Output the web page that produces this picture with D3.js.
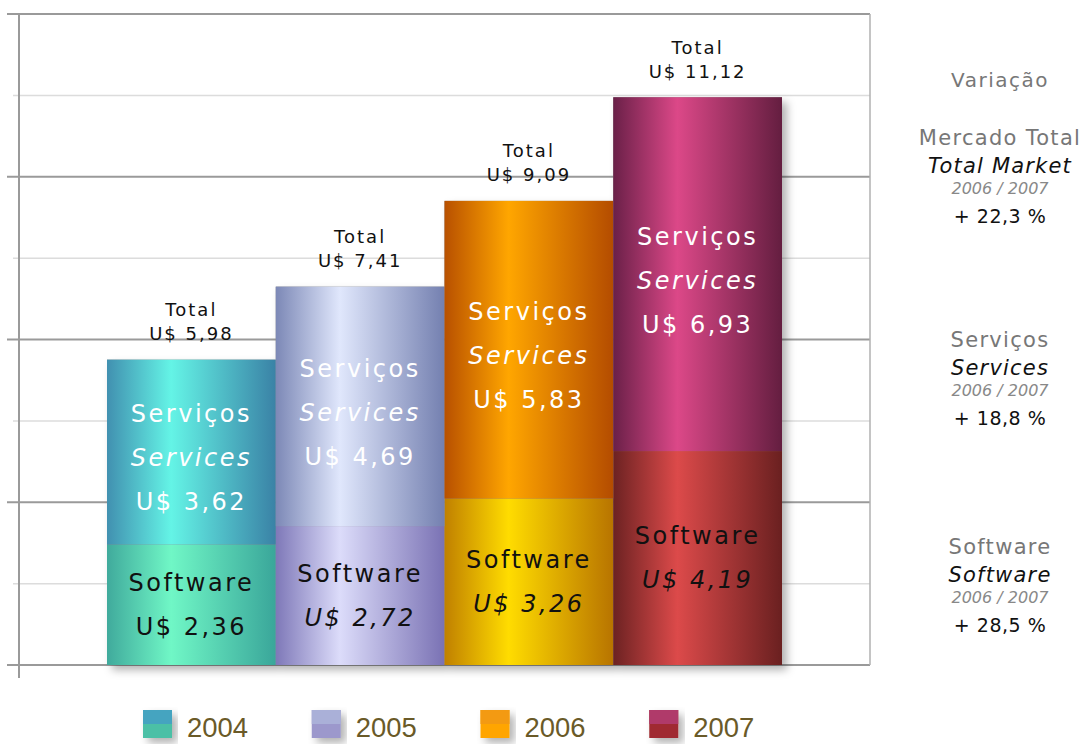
<!DOCTYPE html>
<html>
<head>
<meta charset="utf-8">
<script src="https://cdn.jsdelivr.net/npm/d3@7"></script>
<style>
  body { margin: 0; background: #fff; }
  svg { display: block; }
  text { font-family: "DejaVu Sans", sans-serif; }
</style>
</head>
<body>
<div id="chart"></div>
<script>
var svgWidth = 1084;
var svgHeight = 744;

// values in US$ billions
var years = ["2004", "2005", "2006", "2007"];
var software = [2.36, 2.72, 3.26, 4.19];
var services = [3.62, 4.69, 5.83, 6.93];
var totals = [5.98, 7.41, 9.09, 11.12];

// right hand panel
var varHeader = "Variação";
var varTitles = ["Mercado Total", "Serviços", "Software"];
var varEnglish = ["Total Market", "Services", "Software"];
var varPeriod = "2006 / 2007";
var varValues = ["+ 22,3 %", "+ 18,8 %", "+ 28,5 %"];

// gradient colours [left, centre, right]
var serviceColors = [
  ["#4190b0", "#64f4e6", "#3a82a6"],
  ["#7c88b6", "#e0e7fc", "#7480b0"],
  ["#b85000", "#ffa600", "#b44c00"],
  ["#6a2048", "#dc4888", "#641e40"]
];
var softwareColors = [
  ["#40aa9c", "#70f7c6", "#3aa69a"],
  ["#7e78b8", "#dcdcfa", "#7a72b4"],
  ["#c08000", "#ffdc00", "#b87400"],
  ["#6c2222", "#dc4a4a", "#6a2020"]
];
var legendTop = ["#45a4c0", "#aab0d8", "#f39a12", "#b03a6a"];
var legendBottom = ["#4cc0a6", "#9c98cc", "#ffa500", "#a02c30"];

var plot = { left: 19, right: 870, top: 14, bottom: 665 };
var yMax = 12.75;

var locale = d3.formatLocale({ decimal: ",", thousands: ".", grouping: [3], currency: ["U$ ", ""] });
var money = locale.format("$.2f");

var svg = d3.select("#chart")
  .append("svg")
  .attr("width", svgWidth)
  .attr("height", svgHeight);

var defs = svg.append("defs");

var shadow = defs.append("filter")
  .attr("id", "shadow")
  .attr("x", "-10%").attr("y", "-10%")
  .attr("width", "130%").attr("height", "130%");
shadow.append("feDropShadow")
  .attr("dx", 5).attr("dy", 5)
  .attr("stdDeviation", 4)
  .attr("flood-color", "#000")
  .attr("flood-opacity", 0.3);

function addGradient(id, c) {
  var g = defs.append("linearGradient")
    .attr("id", id)
    .attr("x1", "0").attr("x2", "1")
    .attr("y1", "0").attr("y2", "0");
  g.append("stop").attr("offset", "0%").attr("stop-color", c[0]);
  g.append("stop").attr("offset", "38%").attr("stop-color", c[1]);
  g.append("stop").attr("offset", "100%").attr("stop-color", c[2]);
}
years.forEach(function(y, i) {
  addGradient("svc" + y, serviceColors[i]);
  addGradient("sw" + y, softwareColors[i]);
});

var x = d3.scaleBand()
  .domain(years)
  .range([107, 782])
  .padding(0);

var yScale = d3.scaleLinear()
  .domain([0, yMax])
  .range([plot.bottom, plot.top]);

// gridlines, 8 intervals
var gridVals = d3.range(9).map(function(i) { return yMax * i / 8; });
svg.append("g")
  .selectAll("line")
  .data(gridVals)
  .enter().append("line")
  .attr("x1", function(d, i) { return i % 2 === 0 ? 7 : 13; })
  .attr("x2", plot.right)
  .attr("y1", function(d) { return yScale(d); })
  .attr("y2", function(d) { return yScale(d); })
  .attr("stroke", function(d, i) { return i % 2 === 0 ? "#9a9a9a" : "#dcdcdc"; })
  .attr("stroke-width", function(d, i) { return i % 2 === 0 ? 2 : 1.5; });

svg.append("line")
  .attr("x1", plot.right).attr("x2", plot.right)
  .attr("y1", plot.top).attr("y2", plot.bottom)
  .attr("stroke", "#b0b0b0")
  .attr("stroke-width", 1.5);

// bars
var bars = svg.append("g");
bars.append("g")
  .attr("filter", "url(#shadow)")
  .selectAll("rect")
  .data(years)
  .enter().append("rect")
  .attr("x", function(d) { return x(d); })
  .attr("width", x.bandwidth())
  .attr("y", function(d, i) { return yScale(totals[i]); })
  .attr("height", function(d, i) { return yScale(0) - yScale(totals[i]); })
  .attr("fill", "#888");

bars.selectAll(".sw")
  .data(years)
  .enter().append("rect")
  .attr("class", "sw")
  .attr("x", function(d) { return x(d); })
  .attr("width", x.bandwidth())
  .attr("y", function(d, i) { return yScale(software[i]); })
  .attr("height", function(d, i) { return yScale(0) - yScale(software[i]); })
  .attr("fill", function(d) { return "url(#sw" + d + ")"; });

bars.selectAll(".svc")
  .data(years)
  .enter().append("rect")
  .attr("class", "svc")
  .attr("x", function(d) { return x(d); })
  .attr("width", x.bandwidth())
  .attr("y", function(d, i) { return yScale(totals[i]); })
  .attr("height", function(d, i) { return yScale(software[i]) - yScale(totals[i]); })
  .attr("fill", function(d) { return "url(#svc" + d + ")"; });

// axis line on the left
svg.append("line")
  .attr("x1", plot.left).attr("x2", plot.left)
  .attr("y1", plot.top).attr("y2", 678)
  .attr("stroke", "#9a9a9a")
  .attr("stroke-width", 2);

// labels inside the bars
var labels = svg.append("g")
  .attr("text-anchor", "middle")
  .style("font-size", "24px")
  .style("letter-spacing", "2.5px");

years.forEach(function(yr, i) {
  var cx = x(yr) + x.bandwidth() / 2;
  var svcMid = (yScale(totals[i]) + yScale(software[i])) / 2 + 6;
  var swMid = (yScale(software[i]) + yScale(0)) / 2;

  labels.append("text").attr("x", cx).attr("y", svcMid - 44)
    .attr("dy", "0.35em").attr("fill", "#fff").text("Serviços");
  labels.append("text").attr("x", cx).attr("y", svcMid)
    .attr("dy", "0.35em").attr("fill", "#fff")
    .style("font-style", "italic").text("Services");
  labels.append("text").attr("x", cx).attr("y", svcMid + 44)
    .attr("dy", "0.35em").attr("fill", "#fff").text(money(services[i]));

  labels.append("text").attr("x", cx).attr("y", swMid - 22)
    .attr("dy", "0.35em").attr("fill", "#111").text("Software");
  labels.append("text").attr("x", cx).attr("y", swMid + 22)
    .attr("dy", "0.35em").attr("fill", "#111")
    .style("font-style", i === 0 ? "normal" : "italic")
    .text(money(software[i]));

  // totals above
  labels.append("text").attr("x", cx).attr("y", yScale(totals[i]) - 50)
    .attr("dy", "0.35em").attr("fill", "#111")
    .style("font-size", "18px").style("letter-spacing", "2px")
    .text("Total");
  labels.append("text").attr("x", cx).attr("y", yScale(totals[i]) - 26)
    .attr("dy", "0.35em").attr("fill", "#111")
    .style("font-size", "18px").style("letter-spacing", "2px")
    .text(money(totals[i]));
});

// variation panel
var panel = svg.append("g")
  .attr("text-anchor", "middle")
  .attr("transform", "translate(1000,0)");

panel.append("text")
  .attr("y", 80).attr("dy", "0.35em")
  .attr("fill", "#777")
  .style("font-size", "20px").style("letter-spacing", "1.5px")
  .text(varHeader);

var blockTops = [138, 340, 547];
varTitles.forEach(function(t, i) {
  var top = blockTops[i];
  panel.append("text").attr("y", top).attr("dy", "0.35em")
    .attr("fill", "#777")
    .style("font-size", "21px").style("letter-spacing", "1.3px")
    .text(t);
  panel.append("text").attr("y", top + 28).attr("dy", "0.35em")
    .attr("fill", "#111")
    .style("font-size", "21px").style("font-style", "italic").style("letter-spacing", "1.2px")
    .text(varEnglish[i]);
  panel.append("text").attr("y", top + 50).attr("dy", "0.35em")
    .attr("fill", "#888")
    .style("font-size", "16px").style("font-style", "italic")
    .text(varPeriod);
  panel.append("text").attr("y", top + 78).attr("dy", "0.35em")
    .attr("fill", "#111")
    .style("font-size", "19px").style("letter-spacing", "0.5px")
    .text(varValues[i]);
});

// legend
var legend = svg.append("g");
var items = legend.selectAll("g")
  .data(years)
  .enter().append("g")
  .attr("transform", function(d) { return "translate(" + (x(d) + 36) + ",710)"; });

items.append("rect")
  .attr("width", 29).attr("height", 28)
  .attr("fill", function(d, i) { return legendBottom[i]; })
  .attr("filter", "url(#shadow)");
items.append("rect")
  .attr("width", 29).attr("height", 14)
  .attr("fill", function(d, i) { return legendTop[i]; });
items.append("text")
  .attr("x", 44).attr("y", 27)
  .attr("fill", "#6a5a28")
  .attr("textLength", 61)
  .attr("lengthAdjust", "spacingAndGlyphs")
  .style("font-family", "'Liberation Sans', Arial, sans-serif")
  .style("font-size", "28px")
  .text(function(d) { return d; });
</script>
</body>
</html>
